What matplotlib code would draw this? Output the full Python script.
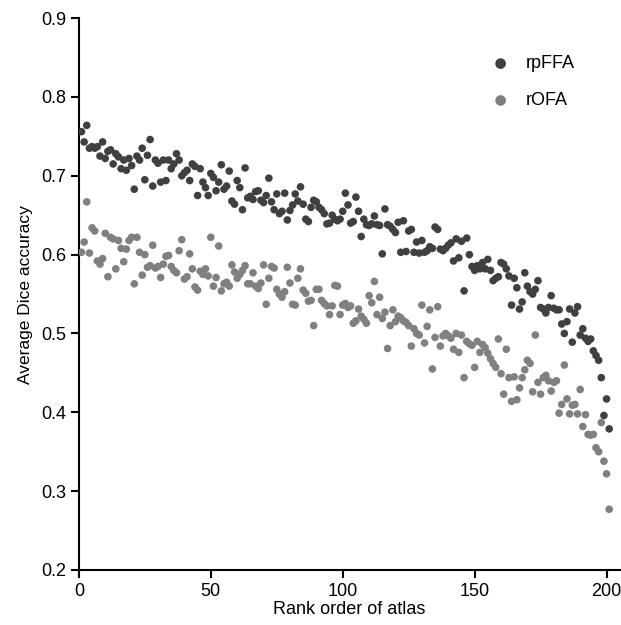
import numpy as np
import matplotlib
matplotlib.use("Agg")
import matplotlib.pyplot as plt

plt.rcParams['font.family'] = ['Liberation Sans', 'DejaVu Sans']

series_names = ["rpFFA", "rOFA"]

rpFFA = [
    0.756, 0.743, 0.764, 0.735, 0.737, 0.735, 0.737, 0.725, 0.743, 0.722,
    0.731, 0.733, 0.715, 0.728, 0.724, 0.709, 0.720, 0.707, 0.722, 0.713,
    0.683, 0.725, 0.720, 0.735, 0.695, 0.726, 0.746, 0.687, 0.720, 0.716,
    0.692, 0.720, 0.694, 0.720, 0.709, 0.715, 0.728, 0.720, 0.700, 0.704,
    0.707, 0.694, 0.715, 0.712, 0.675, 0.709, 0.692, 0.685, 0.675, 0.703,
    0.698, 0.681, 0.692, 0.714, 0.683, 0.687, 0.706, 0.668, 0.664, 0.694,
    0.685, 0.657, 0.710, 0.672, 0.674, 0.670, 0.680, 0.681, 0.669, 0.666,
    0.675, 0.697, 0.667, 0.657, 0.677, 0.652, 0.655, 0.678, 0.644, 0.656,
    0.663, 0.677, 0.668, 0.686, 0.664, 0.645, 0.642, 0.660, 0.669, 0.667,
    0.660, 0.657, 0.652, 0.639, 0.640, 0.650, 0.645, 0.643, 0.645, 0.655,
    0.678, 0.663, 0.640, 0.642, 0.673, 0.655, 0.623, 0.645, 0.638, 0.637,
    0.639, 0.649, 0.638, 0.637, 0.601, 0.658, 0.638, 0.636, 0.632, 0.628,
    0.641, 0.603, 0.643, 0.604, 0.630, 0.632, 0.603, 0.616, 0.602, 0.618,
    0.603, 0.605, 0.610, 0.608, 0.635, 0.632, 0.607, 0.605, 0.608, 0.612,
    0.615, 0.592, 0.620, 0.596, 0.617, 0.554, 0.621, 0.600, 0.585, 0.580,
    0.586, 0.582, 0.590, 0.582, 0.594, 0.580, 0.567, 0.570, 0.572, 0.590,
    0.588, 0.582, 0.573, 0.536, 0.570, 0.558, 0.531, 0.540, 0.577, 0.560,
    0.553, 0.550, 0.556, 0.567, 0.533, 0.531, 0.526, 0.533, 0.548, 0.532,
    0.530, 0.530, 0.512, 0.500, 0.515, 0.531, 0.489, 0.526, 0.534, 0.498,
    0.506, 0.494, 0.490, 0.493, 0.478, 0.472, 0.466, 0.444, 0.396, 0.417,
    0.379,
]

rOFA = [
    0.603, 0.616, 0.667, 0.602, 0.634, 0.630, 0.592, 0.588, 0.595, 0.627,
    0.572, 0.622, 0.620, 0.582, 0.618, 0.608, 0.591, 0.607, 0.618, 0.622,
    0.563, 0.622, 0.603, 0.574, 0.600, 0.584, 0.586, 0.612, 0.583, 0.585,
    0.571, 0.588, 0.598, 0.599, 0.585, 0.580, 0.577, 0.605, 0.619, 0.569,
    0.572, 0.601, 0.582, 0.559, 0.555, 0.579, 0.575, 0.582, 0.573, 0.622,
    0.560, 0.571, 0.611, 0.554, 0.563, 0.565, 0.560, 0.587, 0.578, 0.570,
    0.575, 0.580, 0.586, 0.563, 0.563, 0.577, 0.560, 0.557, 0.564, 0.587,
    0.537, 0.570, 0.585, 0.583, 0.556, 0.550, 0.546, 0.553, 0.584, 0.564,
    0.537, 0.536, 0.570, 0.582, 0.555, 0.551, 0.541, 0.542, 0.510, 0.556,
    0.556, 0.542, 0.538, 0.535, 0.524, 0.535, 0.561, 0.560, 0.524, 0.536,
    0.538, 0.533, 0.535, 0.513, 0.516, 0.531, 0.522, 0.518, 0.513, 0.548,
    0.539, 0.566, 0.524, 0.546, 0.519, 0.527, 0.481, 0.510, 0.530, 0.515,
    0.522, 0.520, 0.516, 0.514, 0.510, 0.484, 0.506, 0.500, 0.498, 0.536,
    0.488, 0.509, 0.530, 0.455, 0.495, 0.534, 0.484, 0.497, 0.500, 0.497,
    0.494, 0.480, 0.500, 0.476, 0.498, 0.444, 0.490, 0.487, 0.485, 0.457,
    0.490, 0.476, 0.486, 0.482, 0.475, 0.468, 0.462, 0.457, 0.493, 0.449,
    0.423, 0.480, 0.444, 0.414, 0.445, 0.416, 0.431, 0.444, 0.454, 0.466,
    0.462, 0.426, 0.498, 0.438, 0.423, 0.444, 0.447, 0.440, 0.427, 0.438,
    0.440, 0.399, 0.410, 0.460, 0.417, 0.398, 0.409, 0.410, 0.398, 0.429,
    0.382, 0.397, 0.372, 0.371, 0.372, 0.355, 0.350, 0.387, 0.338, 0.322,
    0.277,
]

x_ticks = [0, 50, 100, 150, 200]
y_ticks = [0.2, 0.3, 0.4, 0.5, 0.6, 0.7, 0.8, 0.9]

colors = ["#404040", "#808080"]

fig = plt.figure(figsize=(6.21, 6.25), dpi=100)
ax = fig.add_axes([0.127, 0.088, 0.871, 0.883])

for name, vals, c in zip(series_names, [rpFFA, rOFA], colors):
    xs = np.arange(1, len(vals) + 1)
    ax.scatter(xs, vals, s=30, color=c, edgecolors='none', label=name, zorder=3)

ax.set_xlim(0, 205)
ax.set_ylim(0.2, 0.9)
ax.set_xticks(x_ticks)
ax.set_yticks(y_ticks)
ax.set_yticklabels([f"{v:.1f}" for v in y_ticks])
for s in ['top', 'right']:
    ax.spines[s].set_visible(False)
for s in ['left', 'bottom']:
    ax.spines[s].set_linewidth(1.5)
    ax.spines[s].set_color('black')
ax.tick_params(direction='out', length=6, width=1.5, labelsize=13, pad=3)
ax.set_xlabel("Rank order of atlas", fontsize=13, labelpad=1)
ax.set_ylabel("Average Dice accuracy", fontsize=12.5, labelpad=6)

leg = ax.legend(frameon=False, loc='upper left', bbox_to_anchor=(0.733, 0.962),
                fontsize=13, markerscale=1.4, labelspacing=1.1,
                handletextpad=0.9, handlelength=1.0)

fig.savefig("out.png", dpi=100)
